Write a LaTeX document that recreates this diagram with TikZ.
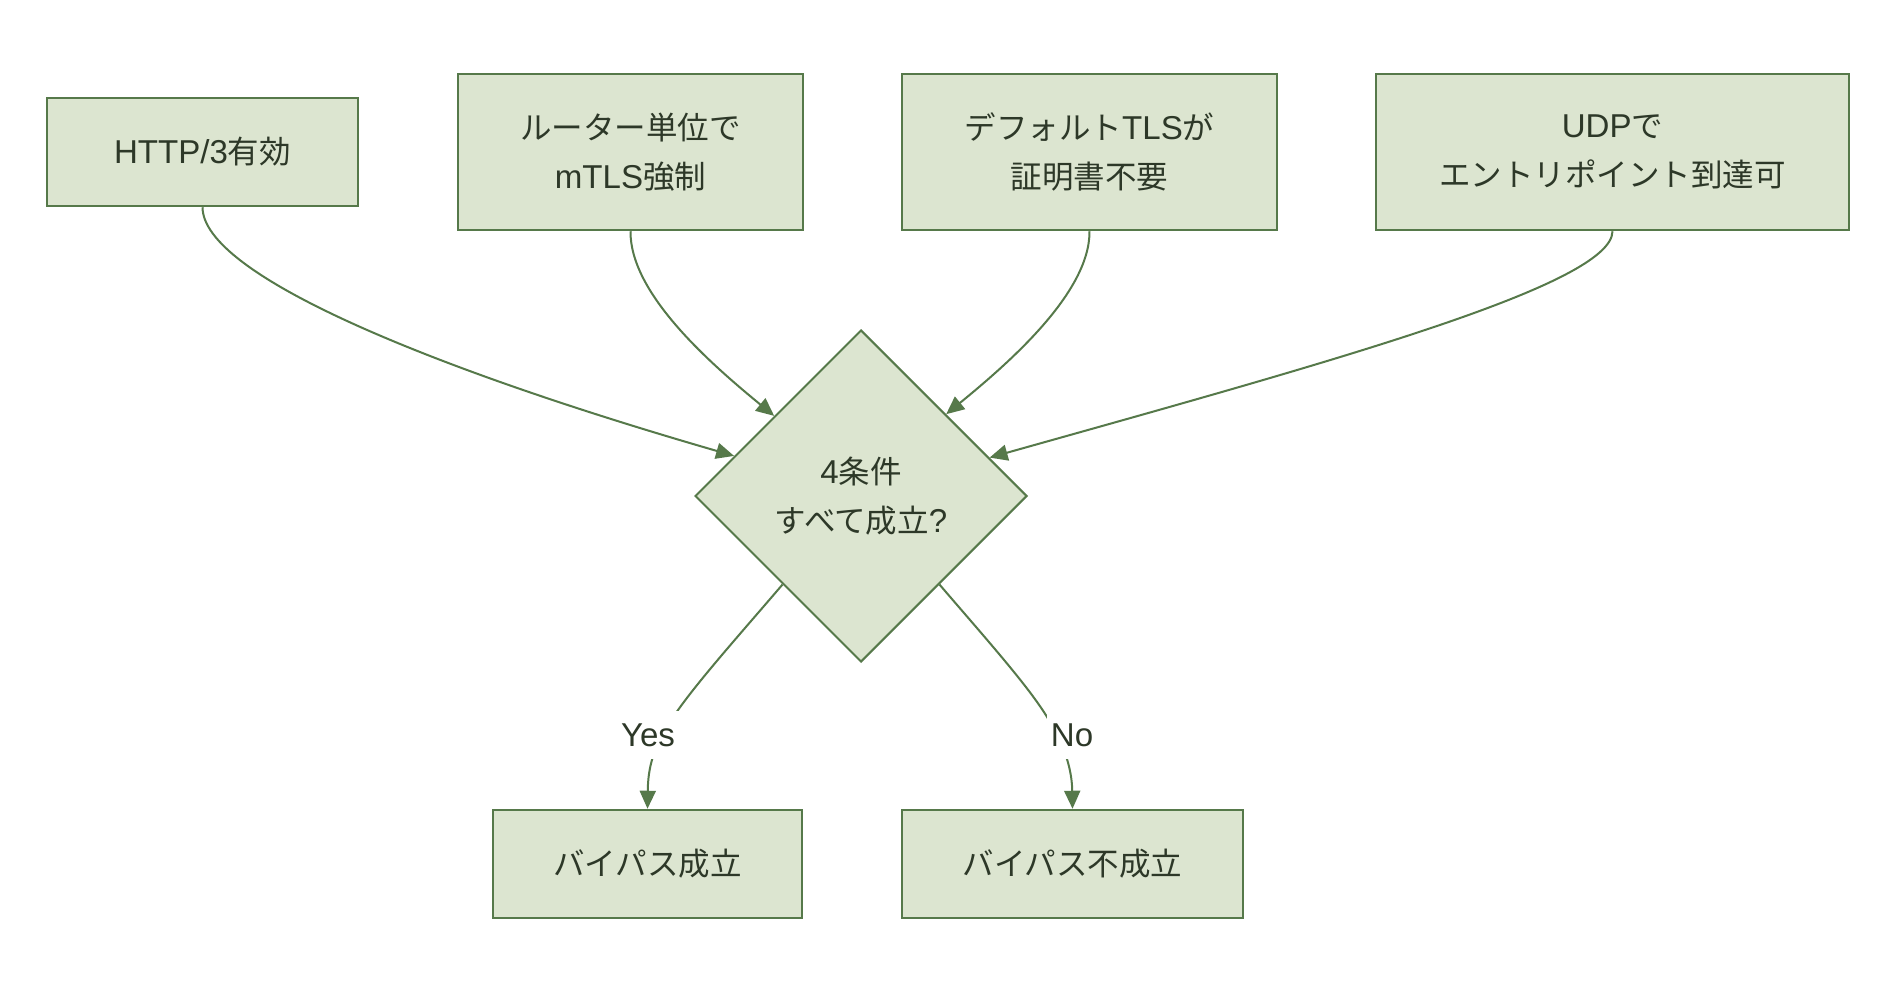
\documentclass[tikz,border=0pt]{standalone}
\usepackage{fontspec}
\setmainfont{Noto Sans CJK JP}
\newfontfamily\lat{Liberation Sans}[Scale=1.05]
\usetikzlibrary{shapes.geometric,arrows.meta,calc}
\definecolor{boxfill}{HTML}{DCE5D0}
\definecolor{boxline}{HTML}{56794A}
\definecolor{txt}{HTML}{2D3828}
\begin{document}
\begin{tikzpicture}[x=1pt,y=-1pt,
  box/.style={draw=boxline, fill=boxfill, line width=2.5pt, text=txt,
    font=\fontsize{31.5}{49.6}\selectfont, align=center, inner sep=0pt},
  cond/.style={diamond, aspect=1, draw=boxline, fill=boxfill, line width=2pt, text=txt,
    font=\fontsize{31.5}{49.6}\selectfont, align=center, minimum width=332pt,
    minimum height=332pt, inner sep=0pt},
  link/.style={draw=boxline, line width=2pt, -{Triangle[length=18pt,width=16pt]}},
  lbl/.style={fill=white, text=txt, font=\fontsize{31.5}{36}\selectfont\lat,
    inner xsep=4pt, minimum height=48pt}
]
\useasboundingbox (0,0) rectangle (1896,996);
\fill[white] (0,0) rectangle (1896,996);

\node[box, minimum width=311pt, minimum height=108pt] (b1) at (202.5,152) {{\lat HTTP/3}有効};
\node[box, minimum width=345pt, minimum height=156pt] (b2) at (630.5,152) {ルーター単位で\\{\lat mTLS}強制};
\node[box, minimum width=375pt, minimum height=156pt] (b3) at (1089.5,152) {デフォルト{\lat TLS}が\\証明書不要};
\node[box, minimum width=473pt, minimum height=156pt] (b4) at (1612.5,152) {{\lat UDP}で\\エントリポイント到達可};

\node[cond] (d) at (861,496) {{\lat 4}条件\\すべて成立{\lat ?}};

\node[box, minimum width=309pt, minimum height=108pt] (y) at (647.5,864) {バイパス成立};
\node[box, minimum width=341pt, minimum height=108pt] (n) at (1072.5,864) {バイパス不成立};

\coordinate (t1) at ($(d.west)!0.24!(d.north)$);
\coordinate (t2) at ($(d.west)!0.48!(d.north)$);
\coordinate (t3) at ($(d.north)!0.51!(d.east)$);
\coordinate (t4) at ($(d.north)!0.77!(d.east)$);
\coordinate (ys) at ($(d.west)!0.53!(d.south)$);
\coordinate (ns) at ($(d.east)!0.53!(d.south)$);

\draw[link] (b1.south) .. controls (203,275) and (430,368) .. (t1);
\draw[link] (b2.south) .. controls (630,292) and (706,360) .. (t2);
\draw[link] (b3.south) .. controls (1090,292) and (1010,362) .. (t3);
\draw[link] (b4.south) .. controls (1612,285) and (1330,362) .. (t4);

\coordinate (ly) at (648,735);
\coordinate (ln) at (1072,735);
\draw[link] (ys) .. controls (735,640) and (690,690) .. (670,722) .. controls (650,752) and (648,775) .. (y.north);
\draw[link] (ns) .. controls (987,640) and (1032,690) .. (1050,722) .. controls (1068,752) and (1072,775) .. (n.north);
\node[lbl] (yl) at (ly) {Yes};
\node[lbl] (nl) at (ln) {No};
\end{tikzpicture}
\end{document}
